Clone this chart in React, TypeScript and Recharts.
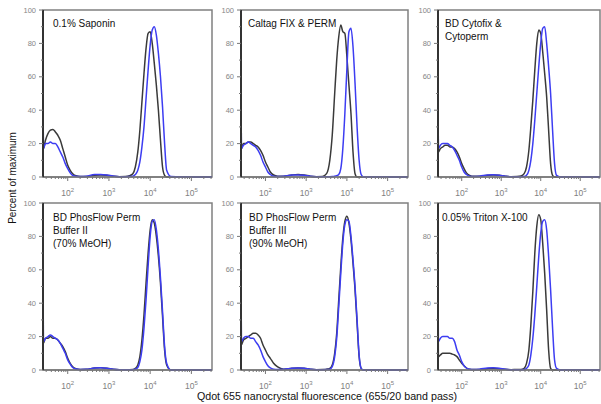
import { LineChart, Line, XAxis, YAxis, ReferenceArea } from 'recharts';

// log10 of fluorescence intensity, shared by every panel
const LOG_X = [
  1.40, 1.41, 1.46, 1.52, 1.58, 1.64, 1.70, 1.76, 1.82, 1.88, 1.94, 2.00, 2.06, 2.12, 2.20,
  2.30, 2.45, 2.65, 2.80, 2.95, 3.10, 3.25, 3.40, 3.50, 3.58, 3.64, 3.70, 3.75, 3.80, 3.85,
  3.90, 3.95, 4.00, 4.05, 4.10, 4.15, 4.20, 4.25, 4.30, 4.35, 4.40, 4.50, 5.00, 5.55,
];

const SAPONIN_BLACK = [100, 17, 22, 26, 28, 28.5, 27, 25, 22, 17, 12, 7, 4, 2, 0.7, 0.3, 0.3, 1, 1.2, 1, 0.5, 0.2, 0.3, 0.8, 2, 6, 15, 28, 45, 62, 77, 86, 87, 80, 68, 55, 40, 22, 6, 1, 0, 0, 0, 0];
const SAPONIN_BLUE = [100, 17, 20, 20, 21, 20, 20, 18, 15, 12, 8, 5, 2.5, 1, 0.4, 0.3, 0.5, 1.5, 1.5, 1.2, 0.6, 0.2, 0.2, 0.3, 0.5, 1.5, 4, 9, 18, 30, 47, 64, 79, 88, 90, 85, 74, 60, 42, 20, 4, 0.3, 0, 0];

const CALTAG_BLACK = [100, 17, 20, 20, 21, 21, 20, 19, 18, 16, 13, 9, 6, 3, 1.2, 0.5, 0.5, 1.2, 1.5, 1.2, 0.5, 0.2, 0.3, 2, 10, 25, 50, 70, 84, 91, 87, 86, 72, 55, 38, 15, 2, 0, 0, 0, 0, 0, 0, 0];
const CALTAG_BLUE = [100, 17, 19, 20, 21, 20, 19, 18, 16, 13, 9, 6, 3, 1.5, 0.5, 0.3, 0.5, 1.2, 1.2, 1, 0.4, 0.2, 0.2, 0.2, 0.2, 0.3, 0.5, 0.8, 1.5, 5, 17, 38, 65, 87, 89, 78, 56, 30, 10, 1.5, 0.2, 0, 0, 0];

const CYTOFIX_BLACK = [100, 15, 17, 18, 19, 19, 18, 18, 17, 15, 12, 8, 5, 2.5, 1, 0.4, 0.4, 1, 1.2, 1, 0.5, 0.2, 0.3, 0.6, 2, 6, 16, 30, 46, 64, 80, 88, 86, 75, 62, 48, 28, 8, 1, 0, 0, 0, 0, 0];
const CYTOFIX_BLUE = [100, 17, 19, 20, 20, 20, 19, 18, 16, 13, 10, 6, 3, 1.5, 0.5, 0.3, 0.5, 1.2, 1.4, 1.1, 0.5, 0.2, 0.2, 0.2, 0.3, 1, 4, 10, 20, 34, 50, 66, 80, 89, 90, 80, 66, 50, 28, 8, 1, 0, 0, 0];

const PHOS2_BLACK = [100, 16, 19, 19, 20, 19, 19, 18, 16, 14, 11, 7, 4, 2, 0.8, 0.3, 0.4, 1.2, 1.4, 1.1, 0.5, 0.2, 0.2, 0.2, 0.3, 1, 3, 8, 18, 33, 52, 70, 84, 90, 88, 80, 68, 52, 32, 12, 3, 0, 0, 0];
const PHOS2_BLUE = [100, 17, 19, 20, 21, 20, 19, 18, 16, 13, 10, 6, 3.5, 1.5, 0.6, 0.3, 0.4, 1.2, 1.4, 1.1, 0.5, 0.2, 0.2, 0.2, 0.2, 0.5, 1.5, 5, 12, 25, 42, 62, 80, 89, 90, 84, 72, 55, 35, 14, 4, 0, 0, 0];

const PHOS3_BLACK = [100, 15, 18, 19, 20, 21, 22, 22, 21, 19, 15, 12, 9, 7, 4, 1.8, 0.5, 1, 1.2, 1, 0.5, 0.2, 0.3, 0.5, 1, 3, 10, 22, 42, 62, 79, 89, 92, 88, 78, 64, 48, 28, 8, 1, 0, 0, 0, 0];
const PHOS3_BLUE = [100, 17, 19, 20, 20, 19, 19, 17, 15, 12, 8, 5, 2.5, 1.2, 0.5, 0.3, 0.4, 1, 1.2, 1, 0.4, 0.2, 0.2, 0.3, 0.5, 2, 8, 19, 38, 58, 76, 87, 90, 89, 80, 66, 50, 30, 9, 1, 0, 0, 0, 0];

const TRITON_BLACK = [100, 8, 9, 10, 10, 10, 10, 9.5, 9, 8, 6, 4, 2.5, 1.2, 0.5, 0.3, 0.3, 0.8, 1, 0.8, 0.4, 0.2, 0.3, 0.3, 1, 4, 12, 27, 47, 70, 86, 93, 90, 76, 58, 36, 12, 1, 0, 0, 0, 0, 0, 0];
const TRITON_BLUE = [100, 17, 19, 20, 20, 20, 19, 19, 17, 12, 9, 5, 2.5, 1.2, 0.5, 0.3, 0.5, 1.2, 1.4, 1.1, 0.5, 0.2, 0.2, 0.2, 0.3, 1, 3, 9, 19, 33, 50, 68, 82, 89, 90, 84, 68, 48, 25, 6, 1, 0, 0, 0];

const DECADES = [2, 3, 4, 5];
const Y_TICKS = [0, 10, 20, 30, 40, 50, 60, 70, 80, 90, 100];

const X_MIN = 1.4;
const X_MAX = 5.5;
const X_TICKS = [1, 2, 3, 4, 5]
  .flatMap((d) => [d, ...[2, 3, 4, 5, 6, 7, 8, 9].map((k) => d + Math.log10(k))])
  .filter((t) => t >= X_MIN && t <= X_MAX);

const FONT = '"Liberation Sans", Arial, sans-serif';
const BLACK = '#3a3a3a';
const BLUE = '#3d3df2';

const ML = 34;
const MT = 4;
const MR = 4;
const MB = 26;
const PLOT_H = 167;

const PANELS = [
  { title: ['0.1% Saponin'], black: SAPONIN_BLACK, blue: SAPONIN_BLUE, left: 43, top: 10, width: 169, tx: 10, ty: 13 },
  { title: ['Caltag FIX & PERM'], black: CALTAG_BLACK, blue: CALTAG_BLUE, left: 241, top: 10, width: 167, tx: 7, ty: 13 },
  { title: ['BD Cytofix &', 'Cytoperm'], black: CYTOFIX_BLACK, blue: CYTOFIX_BLUE, left: 438, top: 10, width: 162, tx: 7, ty: 13 },
  { title: ['BD PhosFlow Perm', 'Buffer II', '(70% MeOH)'], black: PHOS2_BLACK, blue: PHOS2_BLUE, left: 43, top: 203, width: 169, tx: 10, ty: 14 },
  { title: ['BD PhosFlow Perm', 'Buffer III', '(90% MeOH)'], black: PHOS3_BLACK, blue: PHOS3_BLUE, left: 241, top: 203, width: 167, tx: 8, ty: 14 },
  { title: ['0.05% Triton X-100'], black: TRITON_BLACK, blue: TRITON_BLUE, left: 438, top: 203, width: 162, tx: 4, ty: 14 },
];

function XTick(props: any) {
  const { x, y, payload } = props;
  const v = payload.value;
  const major = DECADES.some((d) => Math.abs(d - v) < 1e-6);
  return (
    <g>
      <line x1={x} x2={x} y1={y} y2={y + (major ? 4 : 2)} stroke="#777" strokeWidth={1} />
      {major && (
        <text x={x} y={y + 19} textAnchor="middle" fontSize={8.5} fill="#808080" fontFamily={FONT}>
          10<tspan dy={-4.5} fontSize={6}>{Math.round(v)}</tspan>
        </text>
      )}
    </g>
  );
}

function YTick(props: any) {
  const { x, y, payload } = props;
  const v = payload.value;
  const major = v % 20 === 0;
  return (
    <g>
      <line x1={x - (major ? 4 : 2)} x2={x} y1={y} y2={y} stroke="#777" strokeWidth={1} />
      {major && (
        <text x={x - 7} y={y + 2.5} textAnchor="end" fontSize={7.5} fill="#858585" fontFamily={FONT}>
          {v}
        </text>
      )}
    </g>
  );
}

function Panel({ p }: { p: (typeof PANELS)[number] }) {
  const data = LOG_X.map((x, i) => ({ x, black: p.black[i], blue: p.blue[i] }));
  return (
    <div style={{ position: 'absolute', left: p.left - ML, top: p.top - MT }}>
      <LineChart
        width={p.width + ML + MR}
        height={PLOT_H + MT + MB}
        data={data}
        margin={{ top: MT, right: MR, left: 0, bottom: 0 }}
      >
        <XAxis
          dataKey="x"
          type="number"
          domain={[X_MIN, X_MAX]}
          ticks={X_TICKS}
          interval={0}
          allowDataOverflow
          tickSize={0}
          tickMargin={0}
          tickLine={false}
          tick={<XTick />}
          axisLine={{ stroke: '#777', strokeWidth: 1.5 }}
          height={MB}
        />
        <YAxis
          type="number"
          domain={[0, 100]}
          ticks={Y_TICKS}
          interval={0}
          tickSize={0}
          tickMargin={0}
          tickLine={false}
          tick={<YTick />}
          axisLine={{ stroke: '#333', strokeWidth: 2 }}
          width={ML}
        />
        <ReferenceArea x1={X_MIN} x2={X_MAX} y1={0} y2={100} fill="none" stroke="#808080" strokeWidth={1.5} ifOverflow="visible" />
        <Line dataKey="black" type="monotone" stroke={BLACK} strokeWidth={1.5} dot={false} isAnimationActive={false} />
        <Line dataKey="blue" type="monotone" stroke={BLUE} strokeWidth={1.5} dot={false} isAnimationActive={false} />
      </LineChart>
      <div
        style={{
          position: 'absolute',
          left: ML + p.tx,
          top: MT + p.ty - 6.5,
          fontFamily: FONT,
          fontSize: 10,
          lineHeight: '13px',
          color: '#111',
          whiteSpace: 'nowrap',
        }}
      >
        {p.title.map((t) => (
          <div key={t}>{t}</div>
        ))}
      </div>
    </div>
  );
}

export default function App() {
  return (
    <div style={{ position: 'absolute', left: 0, top: 0, width: 601, height: 404, background: '#fff', overflow: 'hidden' }}>
      {PANELS.map((p, i) => (
        <Panel key={i} p={p} />
      ))}
      <svg width={601} height={404} style={{ position: 'absolute', left: 0, top: 0, pointerEvents: 'none' }}>
        <text x={12} y={178} transform="rotate(-90 12 178)" textAnchor="middle" dominantBaseline="central" fontSize={10} fontFamily={FONT} fill="#111">
          Percent of maximum
        </text>
        <text x={327} y={400} textAnchor="middle" fontSize={10.7} fontFamily={FONT} fill="#111">
          Qdot 655 nanocrystal fluorescence (655/20 band pass)
        </text>
      </svg>
    </div>
  );
}
